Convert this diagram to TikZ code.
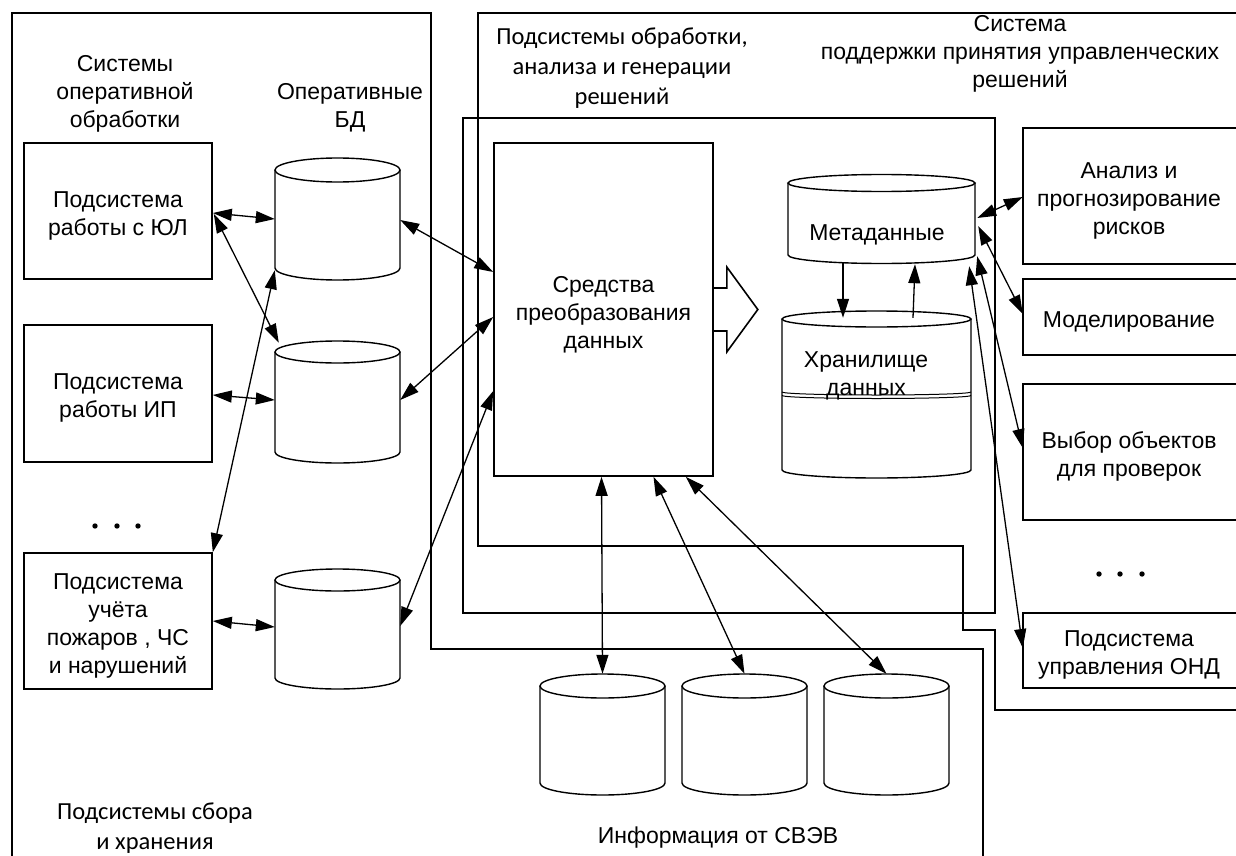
\documentclass[tikz,border=0pt]{standalone}
\usepackage{fontspec}
\setmainfont{Liberation Sans}
\newfontfamily\calfont{Carlito}
\usetikzlibrary{arrows.meta,calc}
\newcommand{\dn}{\rule{0pt}{25pt}}
\newcommand{\dbcyl}[6]{%
  \pgfmathsetmacro\cylcx{(#2+#3)/2}%
  \pgfmathsetmacro\cylrx{(#3-#2)/2}%
  \pgfmathsetmacro\cylcy{(#4+#5)/2}%
  \pgfmathsetmacro\cylw{#3-#2}%
  \pgfmathsetmacro\cylh{#5-#4}%
  \draw[cylline] (#2,#4) -- (#2,#5) arc[start angle=180, end angle=0, x radius=\cylrx, y radius=#6] -- (#3,#4);
  \draw[cylline] (\cylcx,#4) ellipse[x radius=\cylrx, y radius=#6];
  \node[hole, minimum width=\cylw pt, minimum height=\cylh pt] (#1) at (\cylcx,\cylcy) {};
}
\begin{document}
\begin{tikzpicture}[x=1pt,y=-1pt,
  frame/.style={line width=1.6pt, line join=miter},
  cylline/.style={line width=1.4pt},
  box/.style={draw, line width=1.6pt, inner sep=0pt, align=center, font=\fontsize{23}{28}\selectfont},
  openbox/.style={draw=none, inner sep=0pt, align=center, font=\fontsize{23}{28}\selectfont},
  conn/.style={line width=1.3pt, {Triangle[length=19pt,width=12pt]}-{Triangle[length=19pt,width=12pt]}},
  one/.style={line width=1.3pt, -{Triangle[length=19pt,width=12pt]}},
  lbl/.style={align=center, font=\fontsize{23}{28}\selectfont, inner sep=0pt},
  clbl/.style={align=center, font=\calfont\fontsize{24.5}{30}\selectfont, inner sep=0pt},
  hole/.style={inner sep=0pt, draw=none}
]
\useasboundingbox (0,0) rectangle (1236,856);
\fill[white] (0,0) rectangle (1236,856);
\clip (0,0) rectangle (1236,856);

% frames
\draw[frame] (12,860) -- (12,13) -- (431,13) -- (431,649) -- (983,649) -- (983,860);
\draw[frame] (1240,13) -- (478,13) -- (478,546) -- (963,546) -- (963,630) -- (995,630) -- (995,710) -- (1240,710);
\draw[frame] (463,118) rectangle (995,613);

% frame labels
\node[lbl] (t1) at (125,94) {Системы\\оперативной\\обработки};
\node[lbl] (t2) at (350,108) {Оперативные\\БД};
\node[clbl] (t3) at (622,68) {Подсистемы обработки,\\анализа и генерации\\решений};
\node[lbl] (t4) at (1020,54) {Система\\поддержки принятия управленческих\\решений};
\node[clbl] (t5) at (155,828) {Подсистемы сбора\\и хранения};
\node[lbl] (t6) at (718,838) {Информация от СВЭВ};

% left boxes
\node[box, minimum width=188pt, minimum height=136pt] (ju) at (118,211) {\dn Подсистема\\работы с ЮЛ};
\node[box, minimum width=188pt, minimum height=137pt] (ip) at (118,393.5) {\dn Подсистема\\работы ИП};
\node[box, minimum width=188pt, minimum height=136pt] (uch) at (118,621) {\dn Подсистема\\учёта\\пожаров , ЧС\\и нарушений};

% operative DBs
\dbcyl{db1}{275}{400}{170}{268}{12}
\dbcyl{db2}{275}{400}{352}{452}{11}
\dbcyl{db3}{275}{400}{580}{678}{11}

% dots
\fill (95,526) circle[radius=2.7];
\fill (117,526) circle[radius=2.7];
\fill (138,526) circle[radius=2.7];
\fill (1099,574) circle[radius=2.7];
\fill (1120,574) circle[radius=2.7];
\fill (1142,574) circle[radius=2.7];

% transformation box
\node[box, minimum width=219pt, minimum height=333pt] (sr) at (603.5,309.5) {\rule{0pt}{27pt}Средства\\преобразования\\данных};
\draw[frame] ($(sr.east)+(0,-21.5)$) -- ++(13,0) -- ++(0,-21) -- ($(sr.east)+(44,0)$) -- ($(sr.east)+(13,42.5)$) -- ++(0,-21) -- ($(sr.east)+(0,21.5)$);

% metadata and storage
\dbcyl{meta}{788}{975}{183}{255}{8.5}
\node[lbl] (metaT) at (877,235) {Метаданные};
\dbcyl{stor}{782}{971}{319}{470}{8}
\draw[line width=1pt] (782,392) arc[start angle=180, end angle=0, x radius=94.5, y radius=3];
\draw[line width=1pt] (782,395.5) arc[start angle=180, end angle=0, x radius=94.5, y radius=3];
\node[lbl] (storT) at (866,376) {Хранилище\\данных};

% external DBs
\dbcyl{e1}{540}{665}{686}{783}{12}
\dbcyl{e2}{682}{807}{686}{783}{12}
\dbcyl{e3}{824}{949}{686}{783}{12}

% right boxes (open at the picture's right edge)
\node[openbox, minimum width=212pt, minimum height=136pt] (an) at (1129,196) {\dn Анализ и\\прогнозирование\\рисков};
\node[openbox, minimum width=212pt, minimum height=76pt] (mod) at (1129,317) {\dn Моделирование};
\node[openbox, minimum width=212pt, minimum height=136pt] (vyb) at (1129,452) {\dn Выбор объектов\\для проверок};
\node[openbox, minimum width=212pt, minimum height=75pt] (ond) at (1129,650.5) {\dn Подсистема\\управления ОНД};
\foreach \b in {an,mod,vyb,ond}{
  \draw[frame] ($(\b.north east)+(6,0)$) -- (\b.north west) -- (\b.south west) -- ($(\b.south east)+(6,0)$);
}

% connectors left
\draw[conn] ($(ju.east)+(0,2)$) -- (db1.west);
\draw[conn] ($(ju.east)+(1,3)$) -- ($(db2.north west)+(4,-9)$);
\draw[conn] ($(db1.south west)+(0,2)$) -- (uch.north east);
\draw[conn] ($(ip.east)+(0,1.5)$) -- ($(db2.west)+(0,-2)$);
\draw[conn] (uch.east) -- ($(db3.west)+(0,-2)$);
\draw[conn] ($(db1.east)+(0,1)$) -- ($(sr.west)+(0,-37.5)$);
\draw[conn] ($(db2.east)+(0,-2)$) -- ($(sr.west)+(0,7.5)$);
\draw[conn] ($(db3.east)+(0,-3)$) -- ($(sr.west)+(0,81.5)$);

% connectors bottom
\draw[conn] ($(sr.south)+(-2,0)$) -- ($(e1.north)+(0,-12)$);
\draw[conn] ($(sr.south)+(50,0)$) -- ($(e2.north)+(0,-12)$);
\draw[conn] ($(sr.south east)+(-28,0)$) -- ($(e3.north)+(0,-12)$);

% metadata <-> storage
\draw[one] ($(meta.south)+(-38.5,7)$) -- ($(stor.north)+(-33.5,-1)$);
\draw[one] ($(stor.north)+(36.5,-1)$) -- ($(meta.south)+(33.5,9)$);

% connectors right
\draw[conn] ($(meta.east)+(2,-1)$) -- ($(an.west)+(0,1)$);
\draw[conn] ($(meta.east)+(3,7)$) -- ($(mod.west)+(0,-3)$);
\draw[conn] ($(meta.south east)+(2,1)$) -- ($(vyb.west)+(0,-4)$);
\draw[conn] ($(meta.south east)+(-6,11)$) -- ($(ond.west)+(0,-2.5)$);
\end{tikzpicture}
\end{document}
